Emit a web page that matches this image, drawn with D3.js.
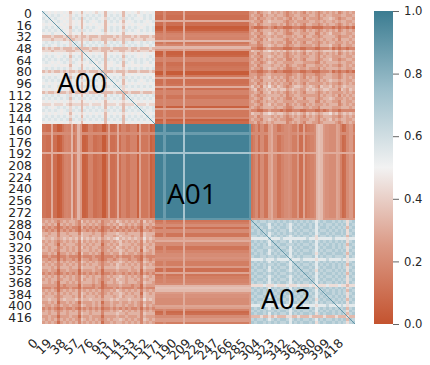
<!DOCTYPE html>
<html><head><meta charset="utf-8">
<script src="https://cdn.jsdelivr.net/npm/d3@7/dist/d3.min.js"></script>
<style>html,body{margin:0;padding:0;background:#fff}svg{display:block}</style>
</head><body><svg id="chart" width="430" height="365"></svg>
<script>
// Group boundaries on the matrix index (A00, A01, A02)
const groupEdges = [0, 154, 286, 428];
const groupNames = ["A00", "A01", "A02"];
const xTickLabels = [0,19,38,57,76,95,114,133,152,171,190,209,228,247,266,285,304,323,342,361,380,399,418];
const yTickLabels = [0,16,32,48,64,80,96,112,128,144,160,176,192,208,224,240,256,272,288,304,320,336,352,368,384,400,416];
const colorbarTicks = [0,0.2,0.4,0.6,0.8,1];
const paletteStops = [0,0.25,0.5,0.75,1];
const paletteColors = ["#c4532f","#db9a86","#f2f2f2","#9dbfcb","#3b7c91"];

// A00 members against the whole of A01 (estimated per 3 indices)
const a00Stripes = [.12,.12,.1,.1,.3,.1,.1,.03,.05,.12,.17,.18,.17,.33,.13,.18,.33,.25,.05,.05,.07,.17,.17,.1,.1,.12,.13,.03,.03,.13,.28,.1,.1,.12,.3,.1,.17,.17,.12,.12,.17,.17,.17,.05,.28,.13,.13,.13,.18,.05,.08];
// A02 members against the whole of A01
const a02Stripes = [.12,.15,.2,.1,.2,.2,.12,.12,.26,.3,.2,.2,.12,.12,.17,.2,.2,.22,.2,.15,.15,.25,.1,.1,.28,.12,.15,.17,.17,.2,.33,.36,.34,.25,.22,.22,.2,.2,.2,.28,.26,.17,.08,.1,.2,.25,.25,.15];
// A01 members against A01 itself, and their pale lines through the other groups
const a01Levels = [.98,.98,.98,.98,.88,.98,.98,.98,.98,.98,.98,.98,.98,.72,.98,.98,.98,.98,.98,.98,.98,.98,.98,.98,.98,.98,.98,.98,.98,.98,.98,.98,.98,.98,.98,.98,.98,.98,.98,.98,.98,.98,.98,.9];
const a01Pale = [0,0,0,0,.2,0,0,0,0,0,0,0,0,.3,0,0,0,0,0,0,0,0,0,0,0,0,0,0,0,0,0,0,0,0,0,0,0,0,0,0,0,0,0,.25];

// What each digit of the estimated matrices reads as, per block
const a00Digits = [0,.1,.2,.34,.42,.48,.53,.57,.6,.65];
const a02Digits = [0,.1,.2,.34,.44,.54,.64,.7,.75,.8];
const a20Digits = [0,.1,.18,.26,.32,.38,.45,.5,.55,.6];

// Digits estimated per 4 indices
const a00Matrix = [
"765656565 3 565 3 6565465 3 66565 3 6565465656",
"676767656 4 676 4 6767676 3 67676 3 6767567676",
"767676565 4 767 3 7676765 4 76767 4 7676657676",
"676567656 4 565 3 6765676 3 67675 3 6567676567",
"565656565 4 565 3 5656565 3 56565 4 5656565656",
"676767656 3 676 3 6767656 3 67676 3 6767656767",
"767676765 4 767 4 7676567 3 67676 4 7676576767",
"565756565 4 565 3 5655656 4 56565 3 6556565656",
"333433343 3 434 3 3433343 3 33434 3 3343433343",
"444344434 3 344 3 4434443 3 44344 3 4434443444",
"676767656 4 676 3 6767676 3 67676 3 7676576767",
"767657676 4 767 3 7676767 4 76767 4 6767676576",
"343433433 3 433 3 3343343 3 34333 3 3433433343",
"444344443 3 344 3 4434443 3 43443 3 4434344434",
"565656565 4 565 3 5656565 3 56565 4 5656565656",
"676765676 3 767 3 6567676 3 67676 3 7676565676",
"767676767 4 676 3 7676767 3 76767 4 6767676767",
"676565676 4 765 4 6576576 3 65676 3 7657676576",
"555656555 3 565 3 5655565 3 55655 3 5655565556",
"676767676 4 667 3 6767676 3 67676 4 6767676767",
"343433434 3 343 3 3433343 3 33433 3 4333433343",
"565656565 4 565 3 5656565 3 56565 3 5656565656",
"767676567 3 767 3 6767676 3 76767 4 7676767675",
"676767676 4 676 4 7676767 4 67676 3 6767656767",
"565656565 4 656 3 5656565 3 55656 3 5656565656",
"767657676 3 767 3 7676767 3 76767 4 7676767676",
"565656565 4 565 3 5656565 4 56565 4 5656565656",
"343343334 3 433 3 3433343 3 33433 3 3433343334",
"676767667 4 676 3 6767676 3 67676 3 6767676767",
"767676767 3 767 4 7676767 4 76767 3 7676767676",
"565656565 4 565 3 5656565 3 56565 4 5655565656",
"444544454 3 444 3 4454445 3 44454 3 4445444544",
"676567676 4 676 3 6767676 3 67676 3 6767676767",
"767676567 4 767 3 7676767 4 76767 3 7676767667",
"565656565 3 565 4 5656565 3 56565 4 5656565656",
"676767676 4 676 3 6767676 3 67676 3 6767676767",
"767676767 3 767 4 7676767 3 76767 3 7676767676",
"565656565 4 565 3 5656565 3 56565 3 5656565656"
];
const a02Matrix = [
"767667 6 676767 6 76767676 5 6767767676 4 67",
"676776 5 767676 5 67676767 5 7676676767 4 76",
"767677 5 676776 5 76767767 5 6776767676 3 67",
"676767 6 767667 5 67676676 5 7667676767 4 76",
"776767 5 676767 6 76767767 5 6776767767 4 67",
"667676 5 767676 5 67676676 4 7667676676 3 76",
"555555 6 555655 5 55555655 4 5555565555 4 55",
"767676 5 767667 5 76767767 5 6767676767 4 67",
"676767 5 676776 6 67676676 5 7676767676 3 76",
"767766 6 767667 5 76767767 5 6767767676 4 67",
"676677 5 676776 5 67676676 5 7676676767 4 76",
"767676 5 767667 5 76767776 4 6767767776 3 67",
"677667 6 676776 5 67676667 5 7676676667 4 76",
"555565 5 565555 6 55565555 4 5556555565 4 55",
"767676 5 767667 5 76767767 5 6767676767 4 67",
"676767 6 676776 5 67676676 5 7676767676 3 76",
"767767 5 767667 5 76767767 5 6767767676 4 67",
"676676 5 676776 5 67676676 4 7676676767 4 76",
"767767 6 767667 6 76767767 5 6767767676 3 67",
"676676 5 676776 5 67676676 5 7676676767 4 76",
"767767 5 767667 5 76767767 5 6767767676 4 67",
"676676 5 676776 5 67676676 5 7676676767 4 76",
"444454 4 454445 4 44544454 5 4445444544 3 44",
"767676 5 767667 5 76767767 4 6767676767 4 67",
"676767 6 676776 5 67676676 5 7676767676 3 76",
"767767 5 767667 6 76767767 5 6767767676 4 67",
"676676 5 676776 5 67676676 5 7676676767 4 76",
"767767 6 767667 5 76767767 4 6767767676 3 67",
"676676 5 676776 5 67676676 5 7676676767 4 76",
"555655 5 565555 6 55565555 4 5556555565 4 55",
"767676 5 767667 5 76767767 5 6767676767 3 67",
"676767 6 676776 5 67676676 5 7676767676 4 76",
"767767 5 767667 5 76767767 4 6767767676 3 67",
"333433 4 343334 4 33433343 3 3343334333 4 33",
"676676 5 676776 5 67676676 5 7676676767 3 76",
"767767 6 767667 5 76767767 4 6767767676 4 67"
];
// Rows are A02 members, columns are A00 members
const a20Matrix = [
"34343 2 343443 25 343434 23 34354343434 2 5343",
"43434 1 434343 24 434343 23 43435434343 2 4434",
"23232 1 232322 14 232323 12 23242323232 1 4232",
"32323 1 323232 13 323232 12 32323232323 1 3323",
"44344 2 443444 25 444344 23 44454434444 2 5444",
"43444 2 444344 35 443444 24 44345444344 2 5443",
"54454 3 454545 36 454545 34 54564545454 3 6454",
"34343 2 343434 25 343434 23 34345343434 2 5343",
"43443 1 434443 24 434344 13 43435444343 2 4434",
"34344 2 343434 25 343443 23 34354343434 2 5344",
"44343 2 443434 24 443434 23 43445434434 1 5434",
"33434 1 334343 15 334343 13 34335343343 2 4334",
"22322 1 223222 13 222322 12 22323222322 1 3222",
"33233 1 323323 14 332332 12 33234332332 1 4323",
"43434 2 434343 25 434343 23 43445434343 2 5434",
"34343 2 343434 24 343443 23 34354343434 2 4343",
"44434 2 444344 25 444434 24 44454444344 2 5444",
"33433 1 334333 14 333433 13 33343334334 1 4333",
"23232 1 232323 13 232323 12 23233232323 1 3232",
"43434 2 434343 25 434344 23 43445434343 2 5434",
"34344 2 344343 25 344343 23 34354434434 2 4344",
"44343 1 443434 24 444343 13 44345434443 2 5443",
"33333 1 323333 14 333233 12 33334333233 1 4333",
"22232 1 222322 13 222232 12 22323222232 1 3222",
"34343 1 343434 24 343434 23 34354343434 2 4343",
"43434 2 434344 25 434343 23 43445434344 1 5434",
"34443 2 344434 25 344434 24 44345344434 2 5444",
"44544 2 454445 35 445444 34 45454445444 3 6454",
"33434 1 334343 14 333434 13 34334334343 2 4334",
"43343 2 433433 25 433434 23 34344343343 2 5343",
"23232 1 232232 13 232323 12 23232323223 1 3232",
"34343 2 343434 24 343434 23 34345343434 2 4343",
"44344 2 443444 25 443444 24 44454434444 2 5444",
"33433 1 333433 14 334333 13 33343343334 2 4333",
"43434 2 434343 25 434343 23 43445434343 2 5434",
"34343 1 343434 24 343434 13 34344343434 2 4343"
];
const diagonalValue = 0.9;
const annotationAnchors = [[57,93],[167,204],[261,309]];

const parseRows = (rows, digits) => rows.map(r => Array.from(r.replace(/\s/g,""), ch => digits[+ch]));
const m00 = parseRows(a00Matrix, a00Digits), m22 = parseRows(a02Matrix, a02Digits), m20 = parseRows(a20Matrix, a20Digits);

const plot = {left:42, right:355, top:11, bottom:324};
const n = groupEdges[3];
const x = d3.scaleLinear().domain([0,n]).range([plot.left,plot.right]);
const y = d3.scaleLinear().domain([0,n]).range([plot.top,plot.bottom]);
const color = d3.scaleLinear().domain(paletteStops).range(paletteColors).clamp(true);

const svg = d3.select("#chart");
const heat = svg.append("g").attr("shape-rendering","crispEdges");

function drawBlock(rowGroup, colGroup, nRows, nCols, value) {
  const yb = d3.scaleBand().domain(d3.range(nRows)).range([y(groupEdges[rowGroup]), y(groupEdges[rowGroup+1])]);
  const xb = d3.scaleBand().domain(d3.range(nCols)).range([x(groupEdges[colGroup]), x(groupEdges[colGroup+1])]);
  const cells = d3.cross(d3.range(nRows), d3.range(nCols));
  heat.append("g").selectAll("rect").data(cells).join("rect")
    .attr("x", d => xb(d[1])).attr("y", d => yb(d[0]))
    .attr("width", xb.bandwidth()).attr("height", yb.bandwidth())
    .attr("fill", d => color(value(d[0], d[1])));
}

drawBlock(0,0,m00.length,m00[0].length,(r,c)=>m00[r][c]);
drawBlock(2,2,m22.length,m22[0].length,(r,c)=>m22[r][c]);
drawBlock(2,0,m20.length,m20[0].length,(r,c)=>m20[r][c]);
drawBlock(0,2,m20[0].length,m20.length,(r,c)=>m20[c][r]);
drawBlock(1,0,a01Pale.length,a00Stripes.length,(r,c)=>Math.max(a00Stripes[c],a01Pale[r]));
drawBlock(0,1,a00Stripes.length,a01Pale.length,(r,c)=>Math.max(a00Stripes[r],a01Pale[c]));
drawBlock(1,2,a01Pale.length,a02Stripes.length,(r,c)=>Math.max(a02Stripes[c],a01Pale[r]));
drawBlock(2,1,a02Stripes.length,a01Pale.length,(r,c)=>Math.max(a02Stripes[r],a01Pale[c]));
drawBlock(1,1,a01Levels.length,a01Levels.length,(r,c)=>Math.min(a01Levels[r],a01Levels[c]));

// Identity diagonal of the similarity matrix
const diagonal = [[groupEdges[0],groupEdges[1]],[groupEdges[2],groupEdges[3]]].flatMap(([a,b]) => d3.range(a,b));
heat.append("g").selectAll("rect").data(diagonal).join("rect")
  .attr("x", d => x(d)).attr("y", d => y(d))
  .attr("width", x(1)-x(0)).attr("height", y(1)-y(0))
  .attr("fill", color(diagonalValue));

const FONT = "'DejaVu Sans', sans-serif";
const tickColor = "#262626";

const yAxis = d3.axisLeft(d3.scaleLinear().domain([0,n]).range([plot.top+2.5,plot.bottom+2.5]))
  .tickValues(yTickLabels).tickSize(0).tickPadding(10).tickFormat(d3.format("d"));
const gy = svg.append("g").attr("transform",`translate(${plot.left},0)`).call(yAxis);
gy.select(".domain").remove();
gy.selectAll("text").attr("font-family",FONT).attr("font-size",12.4).attr("fill",tickColor);

const xAxis = d3.axisBottom(d3.scaleLinear().domain([0,n]).range([plot.left,plot.right]))
  .tickValues(xTickLabels).tickSize(0).tickFormat(d3.format("d"));
const gx = svg.append("g").attr("transform",`translate(0,${plot.bottom})`).call(xAxis);
gx.select(".domain").remove();
gx.selectAll("text").attr("font-family",FONT).attr("font-size",12.4).attr("fill",tickColor)
  .attr("text-anchor","end").attr("dy",null).attr("y",null)
  .attr("transform","translate(-4,20) rotate(-45)");

// Colorbar
const cb = {left:374, right:393, top:11, bottom:324};
const cy = d3.scaleLinear().domain([0,1]).range([cb.bottom,cb.top]);
const defs = svg.append("defs");
const grad = defs.append("linearGradient").attr("id","cbar").attr("x1",0).attr("x2",0).attr("y1",1).attr("y2",0);
grad.selectAll("stop").data(paletteStops).join("stop")
  .attr("offset",d=>d).attr("stop-color",(d,i)=>paletteColors[i]);
svg.append("rect").attr("x",cb.left).attr("y",cb.top).attr("width",cb.right-cb.left).attr("height",cb.bottom-cb.top).attr("fill","url(#cbar)");
const cAxis = d3.axisRight(cy).tickValues(colorbarTicks).tickSize(6).tickPadding(5).tickFormat(d3.format(".1f"));
const gc = svg.append("g").attr("transform",`translate(${cb.right},0)`).call(cAxis);
gc.select(".domain").remove();
gc.selectAll("line").attr("stroke","#555").attr("stroke-width",0.9);
gc.selectAll("text").attr("font-family",FONT).attr("font-size",11.6).attr("fill",tickColor);

// Annotations
svg.append("g").selectAll("text").data(groupNames).join("text")
  .attr("x",(d,i)=>annotationAnchors[i][0]).attr("y",(d,i)=>annotationAnchors[i][1])
  .attr("font-family","'Open Sans', sans-serif").attr("font-size",28).attr("fill","#000")
  .text(d=>d);
</script></body></html>
